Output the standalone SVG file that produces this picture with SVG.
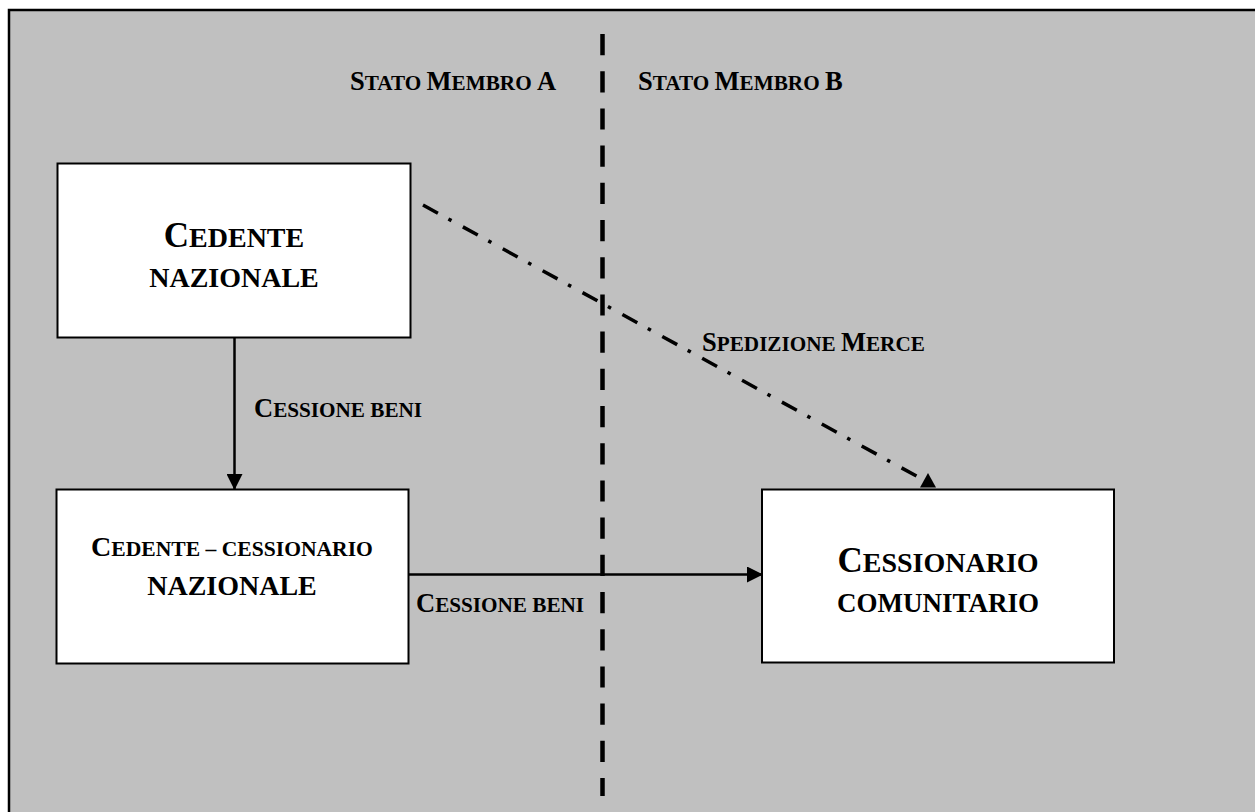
<svg xmlns="http://www.w3.org/2000/svg" width="1255" height="812" viewBox="0 0 1255 812">
  <style>
    .t { font-family: "Liberation Serif", "Times New Roman", serif; font-weight: bold; fill: #000; }
    .lbl { font-size: 26.5px; }
    .sc { font-size: 21.2px; }
    .node { fill: #fff; stroke: #000; stroke-width: 2; }
    .conn { stroke: #000; stroke-width: 2.5; fill: none; }
  </style>
  <defs>
    <marker id="arrow" markerUnits="userSpaceOnUse" markerWidth="16" markerHeight="16" refX="15" refY="8" orient="auto">
      <path d="M0,0 L16,8 L0,16 z" fill="#000"/>
    </marker>
  </defs>

  <!-- page background -->
  <rect x="9" y="10" width="1262" height="820" fill="#c0c0c0" stroke="#000" stroke-width="2.5"/>

  <!-- border between member states -->
  <line x1="602.5" y1="34" x2="602.5" y2="796" stroke="#000" stroke-width="4.5" stroke-dasharray="21.2 16"/>

  <!-- region titles -->
  <text class="t lbl" x="350" y="90">S<tspan class="sc">TATO </tspan>M<tspan class="sc">EMBRO </tspan>A</text>
  <text class="t lbl" x="638" y="90">S<tspan class="sc">TATO </tspan>M<tspan class="sc">EMBRO </tspan>B</text>

  <g id="connectors">
    <line class="conn" x1="234.5" y1="338" x2="234.5" y2="489" marker-end="url(#arrow)"/>
    <line class="conn" x1="409" y1="574.5" x2="762" y2="574.5" marker-end="url(#arrow)"/>
    <line x1="423" y1="205" x2="920" y2="478" stroke="#000" stroke-width="3.5" stroke-dasharray="17 12 3.5 13"/>
    <polygon points="928,473 920,487.5 936,487.5" fill="#000"/>
    <text class="t lbl" x="254" y="417">C<tspan class="sc">ESSIONE BENI</tspan></text>
    <text class="t lbl" x="416" y="612">C<tspan class="sc">ESSIONE BENI</tspan></text>
    <text class="t lbl" x="702" y="351">S<tspan class="sc">PEDIZIONE </tspan>M<tspan class="sc">ERCE</tspan></text>
  </g>

  <g id="cedente-nazionale">
    <rect class="node" x="57.5" y="163.5" width="353" height="174"/>
    <text class="t" x="234" y="247" text-anchor="middle" font-size="35">C<tspan font-size="28">EDENTE</tspan></text>
    <text class="t" x="234" y="287" text-anchor="middle" font-size="28">NAZIONALE</text>
  </g>

  <g id="cedente-cessionario-nazionale">
    <rect class="node" x="56.5" y="489.5" width="352" height="174"/>
    <text class="t" x="232" y="556" text-anchor="middle" font-size="28">C<tspan font-size="21.6">EDENTE – CESSIONARIO</tspan></text>
    <text class="t" x="232" y="595" text-anchor="middle" font-size="28">NAZIONALE</text>
  </g>

  <g id="cessionario-comunitario">
    <rect class="node" x="762" y="489.5" width="352" height="173"/>
    <text class="t" x="938" y="572" text-anchor="middle" font-size="35">C<tspan font-size="28">ESSIONARIO</tspan></text>
    <text class="t" x="938" y="612" text-anchor="middle" font-size="27">COMUNITARIO</text>
  </g>
</svg>
